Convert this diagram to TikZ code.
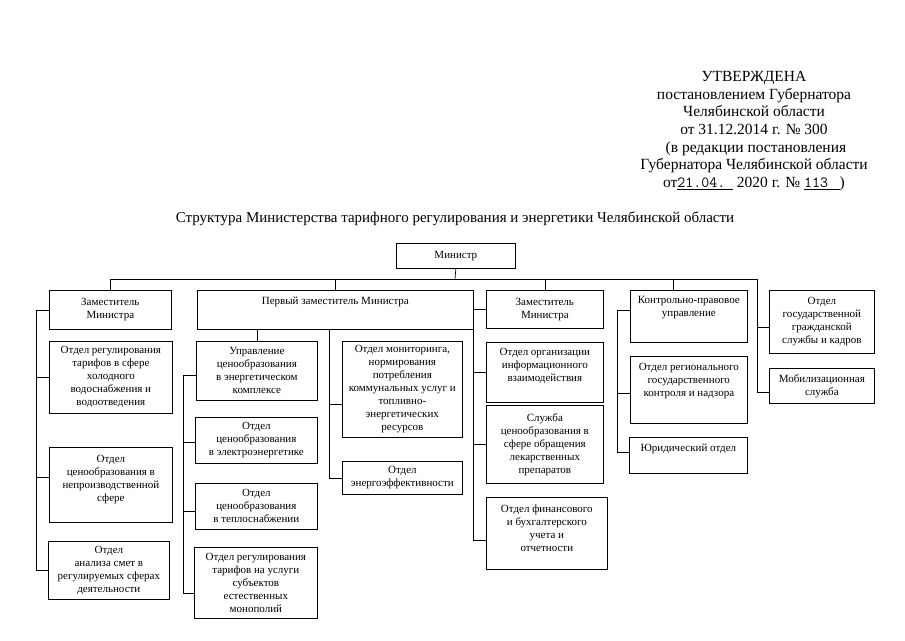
\documentclass[tikz,border=0pt]{standalone}
\usepackage{fontspec}
\setmainfont{Liberation Serif}
\usepackage{tikz}

\begin{document}
\begin{tikzpicture}[x=1pt, y=-1pt,
  unit/.style={draw, line width=0.7pt, align=center, anchor=north west, inner sep=1pt,
    font=\fontsize{11}{13}\selectfont},
  dims/.style 2 args={minimum width=#1pt, minimum height=#2pt},
  link/.style={line width=0.7pt}]

  % bounding box
  \useasboundingbox (0,0) rectangle (905,640);

  % approval stamp
  \node [align=center, font=\fontsize{15.5}{17.7}\selectfont] (stamp) at (754, 131) {УТВЕРЖДЕНА\\
    постановлением Губернатора\\
    Челябинской области\\
    от 31.12.2014 г. № 300\\
    \ (в редакции постановления\\
    Губернатора Челябинской области\\
    от\underline{\texttt{21.04.}\ \ }\ 2020 г. № \underline{\texttt{113}\ \ \ })};

  % title
  \node [font=\fontsize{15}{17}\selectfont] (title) at (455, 219)
    {Структура Министерства тарифного регулирования и энергетики Челябинской области};

  % minister
  \node [unit, dims={119}{25}] (min) at (396, 243) {Министр};

  % first column
  \node [unit, dims={122}{39}] (zam1) at (49, 290) {Заместитель\\ Министра};
  \node [unit, dims={123}{72}] (reg1) at (49, 341) {Отдел регулирования\\ тарифов в сфере\\ холодного\\ водоснабжения и\\ водоотведения};
  \node [unit, dims={123}{75}] (nep) at (49, 447) {Отдел\\ ценообразования в\\ непроизводственной\\ сфере\\[-1pt]\mbox{}};
  \node [unit, dims={121}{58}] (smet) at (48, 541) {Отдел\\ анализа смет в\\ регулируемых сферах\\ деятельности};

  % second column
  \node [unit, dims={276}{39}] (perv) at (197, 290) {Первый заместитель Министра\\[6pt]\mbox{}};
  \node [unit, dims={121}{59}] (upr) at (196, 341) {Управление\\ ценообразования\\ в энергетическом\\ комплексе};
  \node [unit, dims={122}{46}] (elek) at (195, 417) {Отдел\\ ценообразования\\ в электроэнергетике};
  \node [unit, dims={122}{46}] (tepl) at (195, 483) {Отдел\\ ценообразования\\ в теплоснабжении};
  \node [unit, dims={123}{71}] (mon) at (194, 547) {Отдел регулирования\\ тарифов на услуги\\ субъектов\\ естественных\\ монополий};
  \node [unit, dims={120}{96}] (monit) at (342, 341) {Отдел мониторинга,\\ нормирования\\ потребления\\ коммунальных услуг и\\ топливно-\\ энергетических\\ ресурсов};
  \node [unit, dims={120}{33}] (energ) at (342, 461) {Отдел\\ энергоэффективности};

  % third column
  \node [unit, dims={117}{38}] (zam2) at (486, 290) {Заместитель\\ Министра};
  \node [unit, dims={117}{60}] (info) at (486, 342) {Отдел организации\\ информационного\\ взаимодействия\\[1pt]\mbox{}};
  \node [unit, dims={117}{78}] (sluzh) at (486, 405) {Служба\\ ценообразования в\\ сфере обращения\\ лекарственных\\ препаратов};
  \node [unit, dims={121}{72}] (fin) at (486, 497) {Отдел финансового\\ и бухгалтерского\\ учета и\\ отчетности\\[-3pt]\mbox{}};

  % fourth column
  \node [unit, dims={117}{52}] (kontr) at (630, 290) {Контрольно-правовое\\ управление\\[6pt]\mbox{}};
  \node [unit, dims={117}{67}] (regctl) at (630, 356) {Отдел регионального\\ государственного\\ контроля и надзора\\[6pt]\mbox{}};
  \node [unit, dims={118}{36}] (yur) at (629, 437) {Юридический отдел\\[3pt]\mbox{}};

  % fifth column
  \node [unit, dims={105}{63}] (kadr) at (769, 290) {Отдел\\ государственной\\ гражданской\\ службы и кадров};
  \node [unit, dims={105}{35}] (mob) at (769, 368) {Мобилизационная\\ служба};

  % bus under the minister
  \coordinate (bus) at (455, 279);
  \coordinate (rbus) at (757, 279);
  \coordinate (kontrtop) at ([xshift=-16pt]kontr.north);
  \coordinate (kadrin) at ([yshift=-5pt]kadr.west);
  \coordinate (mobin) at ([yshift=-6pt]mob.west);
  \draw [link] (min.south) -- (bus);
  \draw [link] (zam1.north) |- (rbus) |- (mobin) -- (mob.west);
  \draw [link] (kadrin -| rbus) -- (kadrin);
  \draw [link] (perv.north |- bus) -- (perv.north);
  \draw [link] (zam2.north |- bus) -- (zam2.north);
  \draw [link] (kontrtop |- bus) -- (kontrtop);

  % first column links
  \draw [link] (zam1.west) -- ++(-13, 0) coordinate (lv) |- (smet.west);
  \coordinate (nepin) at ([yshift=8pt]nep.west);
  \draw [link] (lv |- reg1.west) -- (reg1.west);
  \draw [link] (lv |- nepin) -- (nepin);

  % second column links
  \coordinate (uprin) at ([yshift=-4pt]upr.west);
  \coordinate (elekin) at ([yshift=-2pt]elek.west);
  \coordinate (teplin) at ([yshift=-5pt]tepl.west);
  \coordinate (monin) at ([yshift=-10pt]mon.west);
  \coordinate (pr) at ([xshift=-6pt]perv.south);
  \coordinate (monitin) at ([yshift=-15pt]monit.west);
  \draw [link] (perv.south -| upr.north) -- (upr.north);
  \draw [link] (uprin) -- ++(-13, 0) coordinate (pv) |- (monin);
  \draw [link] (pv |- elekin) -- (elekin);
  \draw [link] (pv |- teplin) -- (teplin);
  \draw [link] (pr) |- (energ.west);
  \draw [link] (pr |- monitin) -- (monitin);

  % third column links
  \coordinate (finin) at ([yshift=-7pt]fin.west);
  \draw [link] (zam2.west) -- ++(-13, 0) coordinate (mv) |- (finin);
  \draw [link] (mv |- info.west) -- (info.west);
  \draw [link] (mv |- sluzh.west) -- (sluzh.west);

  % fourth column links
  \coordinate (kontrin) at ([yshift=6pt]kontr.west);
  \coordinate (regin) at ([yshift=-3.5pt]regctl.west);
  \coordinate (yurin) at ([yshift=3pt]yur.west);
  \draw [link] (kontrin) -- ++(-13, 0) coordinate (kv) |- (yurin);
  \draw [link] (kv |- regin) -- (regin);

\end{tikzpicture}
\end{document}
